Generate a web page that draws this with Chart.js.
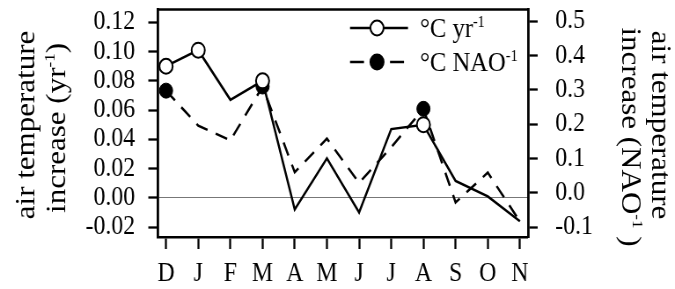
<!DOCTYPE html>
<html>
<head>
<meta charset="utf-8">
<script src="https://cdn.jsdelivr.net/npm/chart.js@4.4.1/dist/chart.umd.min.js"></script>
<style>
  html, body { margin: 0; padding: 0; background: #fff; width: 675px; height: 289px; overflow: hidden; }
  #wrap { width: 767px; height: 289px; transform: scaleX(0.88); transform-origin: 0 0; }
</style>
</head>
<body>
<div id="wrap"><canvas id="c" width="767" height="289"></canvas></div>
<script>
// ---- data ----
const months = ['D','J','F','M','A','M','J','J','A','S','O','N'];
const perYear = [0.090, 0.101, 0.067, 0.080, -0.008, 0.027, -0.010, 0.047, 0.050, 0.0115, 0.001, -0.016];
const perNAO  = [0.298, 0.196, 0.153, 0.310, 0.060, 0.158, 0.029, 0.133, 0.245, -0.028, 0.059, -0.084];
const leftTicks  = [-0.02, 0.00, 0.02, 0.04, 0.06, 0.08, 0.10, 0.12];
const rightTicks = [-0.1, 0.0, 0.1, 0.2, 0.3, 0.4, 0.5];
const markedYear = [0, 1, 3, 8];   // months with open circles
const markedNAO  = [0, 3, 8];      // months with filled dots

const FONT = '"Liberation Serif", "Times New Roman", serif';
const SX = 0.88;                    // horizontal squeeze of the page
const X = v => v / SX;              // screen x -> canvas x

function radii(marked, r) { return months.map((m, i) => marked.includes(i) ? r : 0); }

function drawSupText(ctx, parts, size, supSize, supRaise) {
  let w = 0;
  parts.forEach(p => {
    ctx.font = (p.sup ? supSize : size) + 'px ' + FONT;
    p.w = ctx.measureText(p.t).width; w += p.w;
  });
  let x = -w / 2;
  ctx.textAlign = 'left';
  ctx.textBaseline = 'alphabetic';
  parts.forEach(p => {
    ctx.font = (p.sup ? supSize : size) + 'px ' + FONT;
    ctx.fillText(p.t, x, p.sup ? -supRaise + size * 0.35 : size * 0.35);
    x += p.w;
  });
}

const decor = {
  id: 'decor',
  afterDraw(chart) {
    const ctx = chart.ctx;
    const a = chart.chartArea;
    ctx.save();
    ctx.strokeStyle = '#000';
    ctx.lineWidth = 2.5;
    ctx.beginPath();
    ctx.moveTo(a.left - 1, a.top);
    ctx.lineTo(a.right + 1, a.top);
    ctx.stroke();

    ctx.fillStyle = '#000';
    ctx.save();
    ctx.translate(X(25), 125);
    ctx.rotate(-Math.PI / 2);
    drawSupText(ctx, [{t: 'air temperature'}], 31, 17, 12);
    ctx.restore();
    ctx.save();
    ctx.translate(X(56), 128);
    ctx.rotate(-Math.PI / 2);
    drawSupText(ctx, [{t: 'increase (yr'}, {t: '-1', sup: true}, {t: ')'}], 31, 17, 12);
    ctx.restore();
    ctx.save();
    ctx.translate(X(662), 125);
    ctx.rotate(Math.PI / 2);
    drawSupText(ctx, [{t: 'air temperature'}], 31, 17, 12);
    ctx.restore();
    ctx.save();
    ctx.translate(X(632), 137);
    ctx.rotate(Math.PI / 2);
    drawSupText(ctx, [{t: 'increase (NAO'}, {t: '-1', sup: true}, {t: ' )'}], 31, 17, 12);
    ctx.restore();

    // legend
    const rows = [
      {y: 28, dashed: false, parts: [{t: '\u00B0C yr'}, {t: '-1', sup: true}]},
      {y: 62, dashed: true,  parts: [{t: '\u00B0C NAO'}, {t: '-1', sup: true}]}
    ];
    rows.forEach(r => {
      ctx.strokeStyle = '#000';
      ctx.lineWidth = 2.5;
      ctx.beginPath();
      if (r.dashed) {
        ctx.moveTo(X(350), r.y); ctx.lineTo(X(364), r.y);
        ctx.moveTo(X(390), r.y); ctx.lineTo(X(404), r.y);
      } else {
        ctx.moveTo(X(350), r.y); ctx.lineTo(X(408), r.y);
      }
      ctx.stroke();
      ctx.beginPath();
      ctx.arc(X(377), r.y, 7.5, 0, Math.PI * 2);
      ctx.fillStyle = r.dashed ? '#000' : '#fff';
      ctx.fill();
      ctx.lineWidth = 2;
      ctx.stroke();
      ctx.fillStyle = '#000';
      let x = X(420);
      ctx.textAlign = 'left';
      ctx.textBaseline = 'alphabetic';
      r.parts.forEach(p => {
        ctx.font = (p.sup ? 16 : 28) + 'px ' + FONT;
        ctx.fillText(p.t, x, r.y + (p.sup ? -1 : 9));
        x += ctx.measureText(p.t).width;
      });
    });
    ctx.restore();
  }
};

const solidData = months.map((m, i) => ({x: i, y: perYear[i]}));
const dashData  = months.map((m, i) => ({x: i, y: perNAO[i]}));

function noPad(s) { s.paddingTop = 0; s.paddingBottom = 0; s.paddingLeft = 0; s.paddingRight = 0; }

new Chart(document.getElementById('c'), {
  type: 'line',
  data: {
    datasets: [
      {
        label: '\u00B0C yr\u207B\u00B9',
        data: solidData,
        yAxisID: 'yL',
        borderColor: '#000',
        borderWidth: 2.5,
        pointRadius: radii(markedYear, 7.5),
        pointBackgroundColor: '#fff',
        pointBorderColor: '#000',
        pointBorderWidth: 2,
        tension: 0,
        fill: false
      },
      {
        label: '\u00B0C NAO\u207B\u00B9',
        data: dashData,
        yAxisID: 'yR',
        borderColor: '#000',
        borderWidth: 2.5,
        borderDash: [14, 10],
        pointRadius: radii(markedNAO, 7.5),
        pointBackgroundColor: '#000',
        pointBorderColor: '#000',
        pointBorderWidth: 1,
        tension: 0,
        fill: false
      }
    ]
  },
  options: {
    responsive: false,
    devicePixelRatio: 1,
    animation: false,
    events: [],
    layout: { padding: { top: 7, left: 0, right: 0, bottom: 0 } },
    plugins: { legend: { display: false }, tooltip: { enabled: false } },
    scales: {
      x: {
        type: 'linear',
        min: -0.25,
        max: 11.25,
        afterBuildTicks: s => { s.ticks = months.map((m, i) => ({value: i})); },
        afterFit: s => { s.height = 52; noPad(s); },
        ticks: {
          callback: (v) => months[v] !== undefined ? months[v] : '',
          color: '#000',
          font: { family: FONT, size: 27 },
          padding: 9,
          maxRotation: 0,
          autoSkip: false
        },
        grid: { drawOnChartArea: false, tickLength: 12, tickWidth: 2.3, tickColor: '#000' },
        border: { display: true, color: '#000', width: 2.5 }
      },
      yL: {
        type: 'linear',
        position: 'left',
        min: -0.0268,
        max: 0.1288,
        afterBuildTicks: s => { s.ticks = leftTicks.map(v => ({value: v})); },
        afterFit: s => { s.width = X(158); noPad(s); },
        ticks: {
          callback: v => v.toFixed(2),
          color: '#000',
          font: { family: FONT, size: 27 },
          padding: 15,
          autoSkip: false
        },
        grid: {
          drawOnChartArea: true,
          color: c => (c.tick && c.tick.value === 0) ? '#777' : 'rgba(0,0,0,0)',
          lineWidth: 1,
          tickLength: 11,
          tickWidth: 2.3,
          tickColor: '#000'
        },
        border: { display: true, color: '#000', width: 2.8 }
      },
      yR: {
        type: 'linear',
        position: 'right',
        min: -0.1288,
        max: 0.5346,
        afterBuildTicks: s => { s.ticks = rightTicks.map(v => ({value: v})); },
        afterFit: s => { s.width = X(147); noPad(s); },
        ticks: {
          callback: v => v.toFixed(1),
          color: '#000',
          font: { family: FONT, size: 27 },
          padding: 20,
          autoSkip: false
        },
        grid: { drawOnChartArea: false, tickLength: 11, tickWidth: 2.3, tickColor: '#000' },
        border: { display: true, color: '#000', width: 2.8 }
      }
    }
  },
  plugins: [decor]
});
</script>
</body>
</html>
